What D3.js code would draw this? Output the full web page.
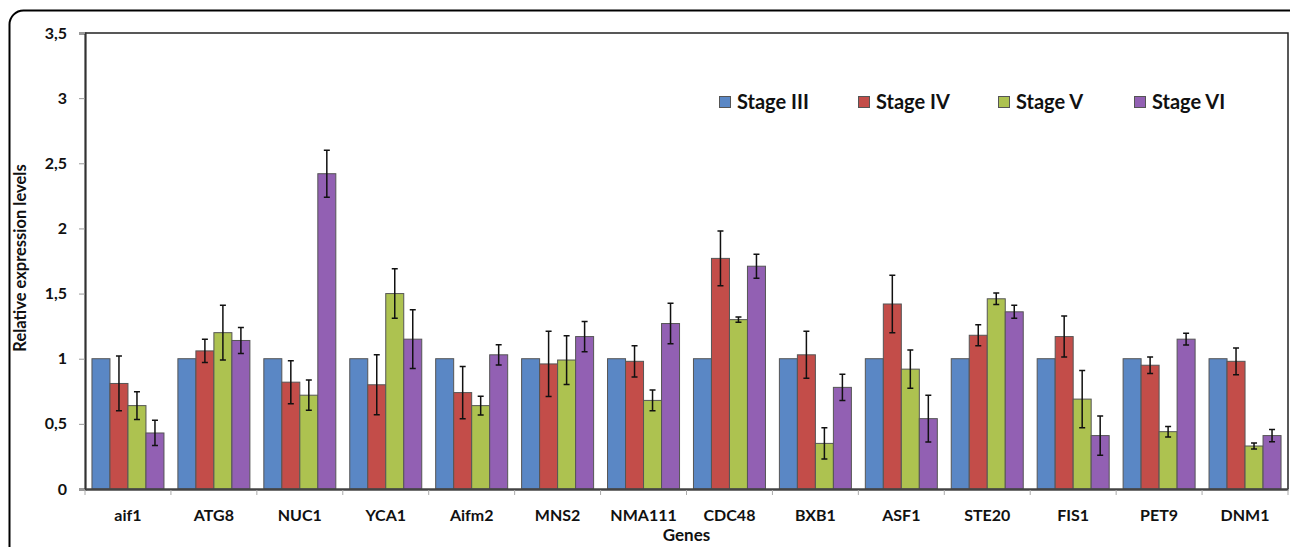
<!DOCTYPE html>
<html><head><meta charset="utf-8">
<script src="https://cdn.jsdelivr.net/npm/d3@7"></script>
<style>body{margin:0;background:#fff}svg{display:block;font-family:Lato,"Open Sans",sans-serif}</style>
</head><body>
<svg id="c" width="1290" height="547"></svg>
<script>
const genes = ["aif1","ATG8","NUC1","YCA1","Aifm2","MNS2","NMA111","CDC48","BXB1","ASF1","STE20","FIS1","PET9","DNM1"];
const stages = ["Stage III","Stage IV","Stage V","Stage VI"];
const stageIII = [1,1,1,1,1,1,1,1,1,1,1,1,1,1];
const stageIV  = [0.81,1.06,0.82,0.80,0.74,0.96,0.98,1.77,1.03,1.42,1.18,1.17,0.95,0.98];
const stageV   = [0.64,1.20,0.72,1.50,0.64,0.99,0.68,1.30,0.35,0.92,1.46,0.69,0.44,0.33];
const stageVI  = [0.43,1.14,2.42,1.15,1.03,1.17,1.27,1.71,0.78,0.54,1.36,0.41,1.15,0.41];
const errIII = [0,0,0,0,0,0,0,0,0,0,0,0,0,0];
const errIV  = [0.21,0.09,0.165,0.23,0.20,0.25,0.12,0.21,0.18,0.22,0.08,0.157,0.064,0.103];
const errV   = [0.106,0.21,0.116,0.19,0.072,0.187,0.08,0.02,0.12,0.146,0.044,0.22,0.04,0.023];
const errVI  = [0.097,0.10,0.18,0.225,0.078,0.116,0.155,0.092,0.10,0.18,0.05,0.15,0.045,0.047];
const yTicks = [0,0.5,1,1.5,2,2.5,3,3.5];
const colors = ["#5a87c5","#c34d49","#adc250","#9260b3"];

const values = [stageIII, stageIV, stageV, stageVI];
const errs = [errIII, errIV, errV, errVI];

const svg = d3.select("#c");
const L = 85, R = 1288, T = 33, B = 489;

// outer rounded frame
svg.append("rect").attr("x",9.5).attr("y",10.5).attr("width",1300).attr("height",600)
  .attr("rx",14).attr("fill","none").attr("stroke","#000").attr("stroke-width",2);

const x = d3.scaleBand().domain(genes).range([L,R]).paddingInner(0).paddingOuter(0);
const bw = 18;
const x1 = d3.scaleBand().domain(stages).range([0,bw*4]);
const y = d3.scaleLinear().domain([0,3.5]).range([B,T]);
const fmt = d => String(d).replace(".",",");

// plot border (top & right)
svg.append("path").attr("d",`M${L},${T}H${R}V${B}`).attr("fill","none").attr("stroke","#222").attr("stroke-width",1.5);

// y axis
const ya = svg.append("g").attr("transform",`translate(${L},0)`)
  .call(d3.axisLeft(y).tickValues(yTicks).tickFormat(fmt).tickSize(6).tickPadding(12));
ya.select(".domain").attr("stroke","#333").attr("stroke-width",2.2);
ya.selectAll(".tick line").attr("stroke","#999");
ya.selectAll("text").attr("font-size","16px").attr("font-weight","bold").attr("fill","#111")
  .attr("font-family","Lato");

// bars
const groups = svg.append("g").selectAll("g").data(genes).join("g")
  .attr("transform",d=>`translate(${x(d)+(x.bandwidth()-bw*4)/2},0)`);
stages.forEach((s,si)=>{
  groups.append("rect")
    .attr("x",x1(s)).attr("width",x1.bandwidth())
    .attr("y",(d,i)=>y(values[si][i])).attr("height",(d,i)=>B-y(values[si][i]))
    .attr("fill",colors[si]).attr("stroke","#555").attr("stroke-width",1);
});
// error bars
stages.forEach((s,si)=>{
  if(si===0) return;
  const cx = x1(s)+x1.bandwidth()/2;
  groups.each(function(d,i){
    const g = d3.select(this);
    const v = values[si][i], e = errs[si][i];
    const y0 = y(v+e), y1 = y(v-e);
    g.append("path").attr("d",`M${cx},${y0}V${y1}M${cx-3},${y0}H${cx+3}M${cx-3},${y1}H${cx+3}`)
      .attr("stroke","#111").attr("stroke-width",1.5).attr("fill","none");
  });
});

// x axis
const xa = svg.append("g").attr("transform",`translate(0,${B})`)
  .call(d3.axisBottom(x).tickSize(0).tickPadding(21));
xa.select(".domain").attr("stroke","#444").attr("stroke-width",2.5);
xa.selectAll("text").attr("font-size","16px").attr("font-weight","bold").attr("fill","#111")
  .attr("font-family","Lato");
// boundary ticks
svg.append("g").selectAll("line").data(d3.range(genes.length+1)).join("line")
  .attr("x1",i=>L+i*x.step()).attr("x2",i=>L+i*x.step())
  .attr("y1",B+1).attr("y2",B+6).attr("stroke","#aaa").attr("stroke-width",1);

// axis titles
svg.append("text").attr("x",(L+R)/2).attr("y",541).attr("text-anchor","middle")
  .attr("font-size","17px").attr("font-weight","bold").attr("fill","#111").text("Genes");
svg.append("text").attr("transform",`translate(26,258) rotate(-90)`).attr("text-anchor","middle")
  .attr("font-size","16.5px").attr("font-weight","bold").attr("fill","#111").text("Relative expression levels");

// legend
const legX = [719,858,998,1134];
const lg = svg.append("g").selectAll("g").data(stages).join("g")
  .attr("transform",(d,i)=>`translate(${legX[i]},0)`);
lg.append("rect").attr("x",0.5).attr("y",96.5).attr("width",11).attr("height",11)
  .attr("fill",(d,i)=>colors[i]).attr("stroke","#555").attr("stroke-width",1);
lg.append("text").attr("x",18).attr("y",109).attr("font-size","20px").attr("font-weight","bold")
  .attr("fill","#111").text(d=>d);
</script>
</body></html>
